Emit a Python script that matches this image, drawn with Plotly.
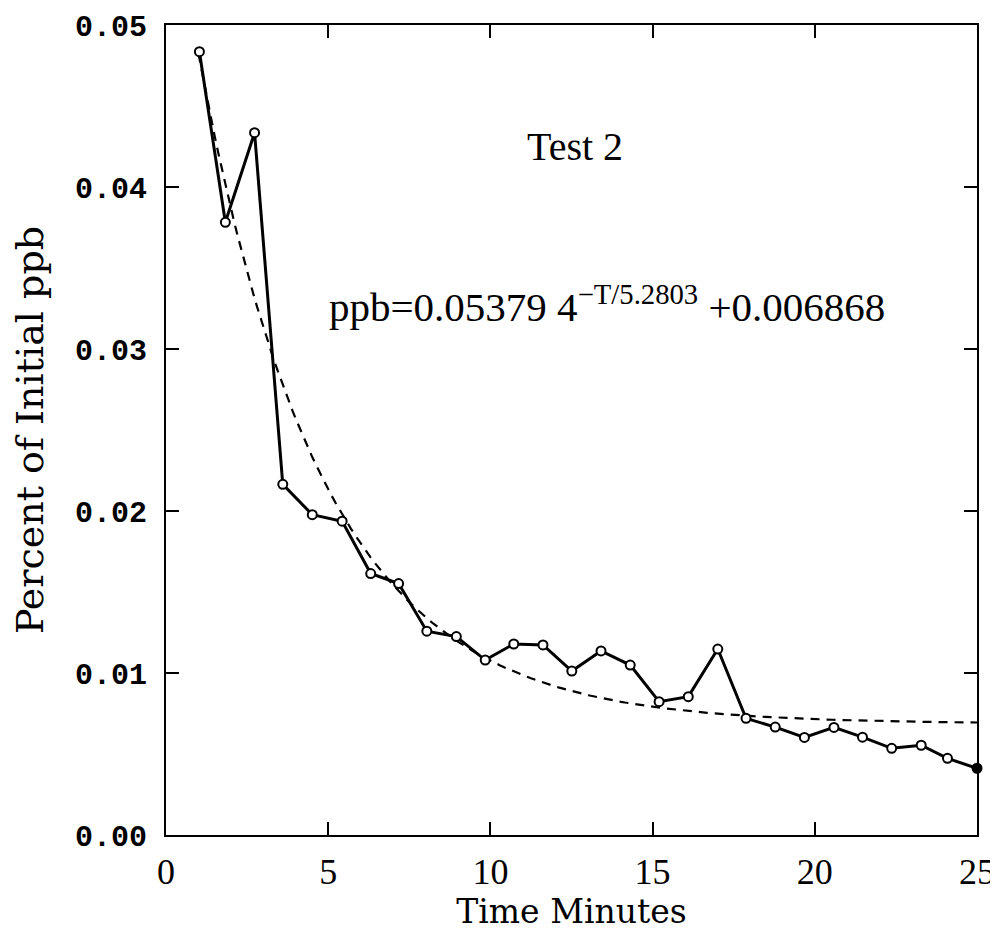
import numpy as np
import plotly.graph_objects as go

# Measured data (Time in minutes, Percent of initial ppb)
time_min = [1.03, 1.83, 2.73, 3.60, 4.51, 5.43, 6.31, 7.17, 8.04, 8.95,
            9.84, 10.72, 11.62, 12.51, 13.41, 14.31, 15.20, 16.10, 17.01, 17.88,
            18.78, 19.68, 20.59, 21.47, 22.37, 23.28, 24.09, 25.0]
pct_ppb = [0.04835, 0.03782, 0.04335, 0.02165, 0.01977, 0.01937, 0.01614, 0.01552, 0.01258, 0.01225,
           0.01080, 0.01179, 0.01173, 0.01012, 0.01136, 0.01049, 0.00823, 0.00854, 0.01148, 0.00720,
           0.00666, 0.00602, 0.00664, 0.00604, 0.00535, 0.00554, 0.00473, 0.00412]

# Fit shown on the chart: ppb = A * base^(-T/tau) + C
fit_A = 0.05379
fit_base = 4
fit_tau = 5.2803
fit_C = 0.006868
fit_T_start = 1.0
fit_T_end = 25.0

x_ticks = [0, 5, 10, 15, 20, 25]
y_ticks = [0.00, 0.01, 0.02, 0.03, 0.04, 0.05]
y_tick_labels = ["0.00", "0.01", "0.02", "0.03", "0.04", "0.05"]

fit_T = np.linspace(fit_T_start, fit_T_end, 200)
fit_y = fit_A * fit_base ** (-fit_T / fit_tau) + fit_C

n = len(time_min)
fills = ["white"] * (n - 1) + ["black"]

fig = go.Figure()
fig.add_trace(go.Scatter(
    x=fit_T, y=fit_y, mode="lines",
    line=dict(color="black", width=2.2, dash="9px,7px"),
    showlegend=False, hoverinfo="skip", cliponaxis=False))
fig.add_trace(go.Scatter(
    x=time_min, y=pct_ppb, mode="lines+markers",
    line=dict(color="black", width=3),
    marker=dict(symbol="circle", size=9, color=fills,
                line=dict(color="black", width=2)),
    showlegend=False, cliponaxis=False))

fig.add_annotation(x=12.6, y=0.0425, xref="x", yref="y",
                   text="Test 2", showarrow=False,
                   font=dict(family="Liberation Serif", size=40, color="black"))
fig.add_annotation(x=4.95, y=0.0328, xref="x", yref="y", xanchor="left",
                   text=f"ppb={fit_A} {fit_base}<sup>\u2212T/{fit_tau}</sup> +{fit_C}",
                   showarrow=False,
                   font=dict(family="Liberation Serif", size=41, color="black"))

# page body has an 8px margin, so the figure is offset by 8px
fig.update_layout(
    width=990, height=932,
    margin=dict(l=158, r=21, t=17, b=105),
    plot_bgcolor="white", paper_bgcolor="white",
)
fig.update_xaxes(
    range=[0, 25], tickvals=x_ticks, automargin=False,
    ticks="inside", ticklen=13, tickwidth=1.5, tickcolor="black",
    showline=True, linecolor="black", linewidth=2, mirror="ticks",
    showgrid=False, zeroline=False, ticklabelstandoff=4,
    tickfont=dict(family="Liberation Serif", size=36, color="black"),
    title=dict(text="Time Minutes", standoff=1,
               font=dict(family="DejaVu Serif", size=33, color="black")),
)
fig.update_yaxes(
    range=[0, 0.05], tickvals=y_ticks, ticktext=y_tick_labels, automargin=False,
    ticks="inside", ticklen=13, tickwidth=1.5, tickcolor="black",
    showline=True, linecolor="black", linewidth=2, mirror="ticks",
    showgrid=False, zeroline=False, ticklabelstandoff=11,
    tickfont=dict(family="Liberation Mono", size=30, color="black", weight="bold"),
    title=dict(text="Percent of Initial ppb", standoff=22,
               font=dict(family="DejaVu Serif", size=38, color="black")),
)

fig.write_html("out.html")
